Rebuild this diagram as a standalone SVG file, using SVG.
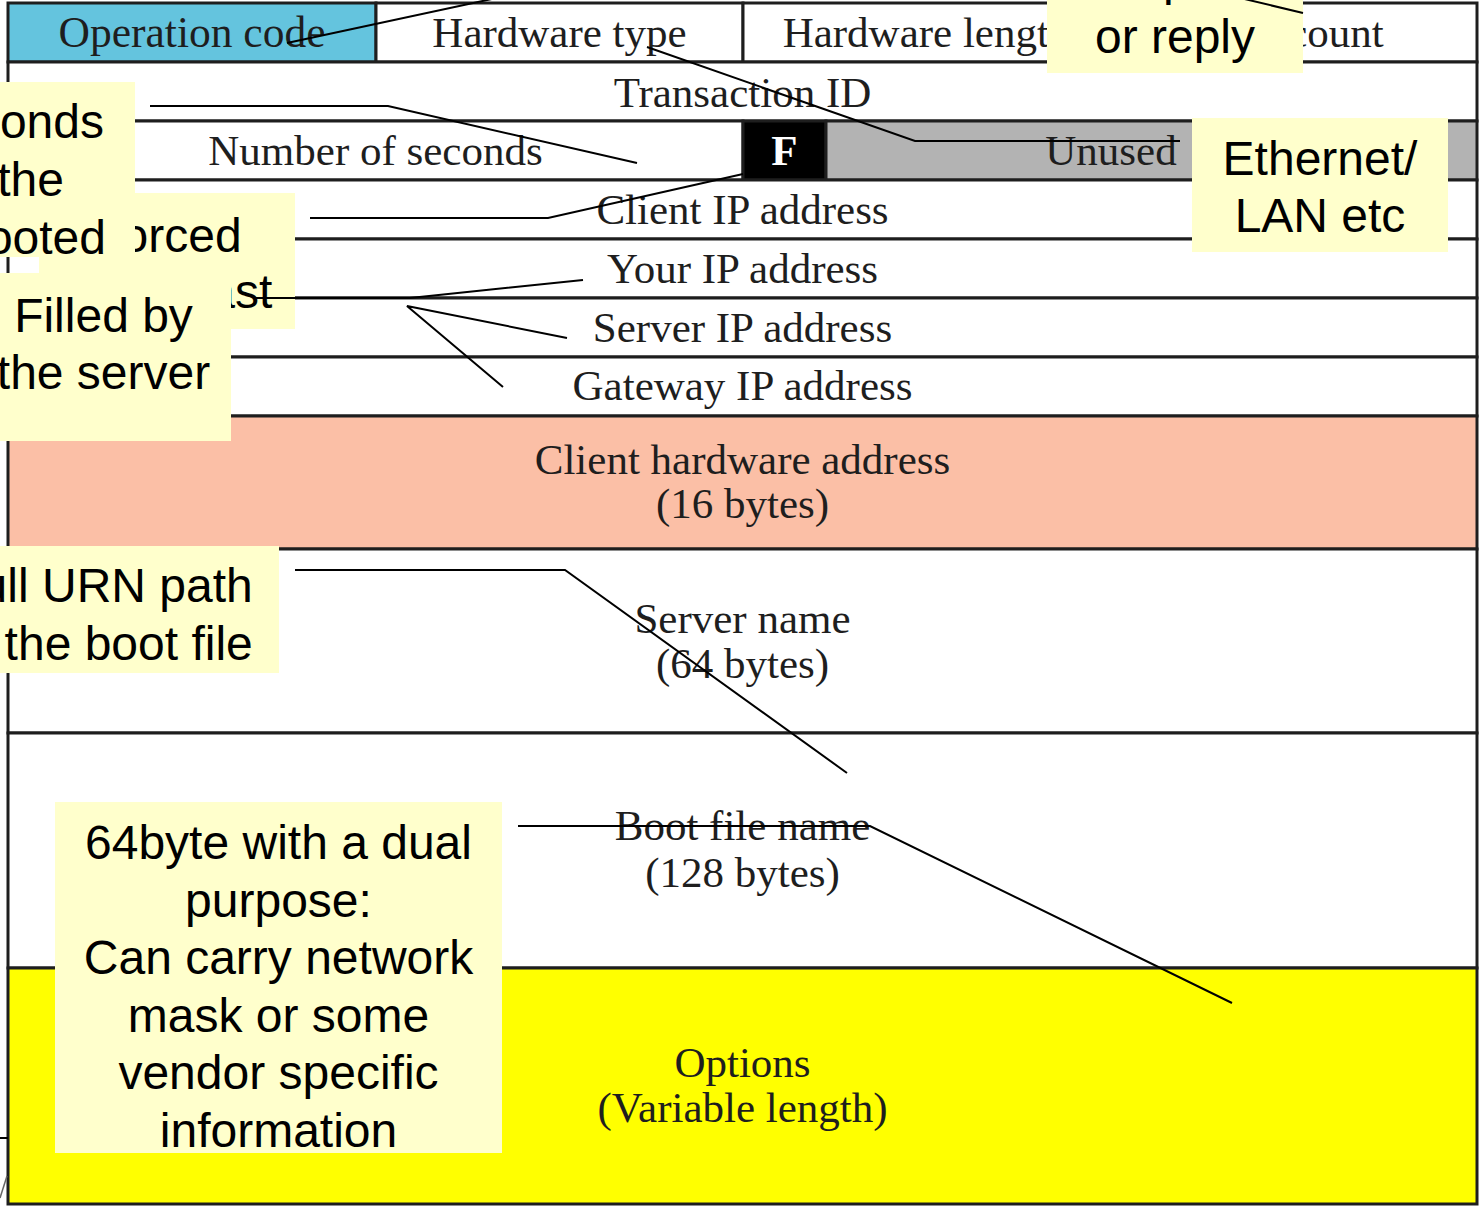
<svg xmlns="http://www.w3.org/2000/svg" width="1479" height="1207" viewBox="0 0 1479 1207">
<style>
.c{stroke:#1e1e1e;stroke-width:3}
.w{fill:#ffffff}
.t{font-family:"Liberation Serif","Times New Roman",serif;font-size:43px;fill:#1e1e1e;text-anchor:middle}
.co{fill:#FFFFCC}
.ct{font-family:"Liberation Sans",Arial,sans-serif;font-size:48px;fill:#000;text-anchor:middle}
.ce{font-family:"Liberation Sans",Arial,sans-serif;font-size:48px;fill:#000;text-anchor:end}
.conn{fill:none;stroke:#000;stroke-width:2}
</style>
<rect x="0" y="0" width="1479" height="1207" fill="#ffffff"/>

<g id="op-code"><rect class="c" x="8" y="3" width="368" height="59" fill="#64C4DE"/><text class="t" x="192" y="47" style="font-size:43.5px">Operation code</text></g>
<g id="hw-type"><rect class="c w" x="376" y="3" width="367" height="59"/><text class="t" x="559.5" y="47">Hardware type</text></g>
<g id="hw-length"><rect class="c w" x="743" y="3" width="367" height="59"/><text class="t" x="926.5" y="47">Hardware length</text></g>
<g id="hop-count"><rect class="c w" x="1110" y="3" width="367" height="59"/><text class="t" x="1293.5" y="47">Hop count</text></g>
<g id="transaction-id"><rect class="c w" x="8" y="62" width="1469" height="59"/><text class="t" x="742.5" y="107">Transaction ID</text></g>
<g id="seconds"><rect class="c w" x="8" y="121" width="735" height="59"/><text class="t" x="375.5" y="165">Number of seconds</text></g>
<g id="flag-f"><rect class="c" x="743" y="121" width="83" height="59" fill="#000"/><text class="t" x="784.5" y="165" style="fill:#fff;font-weight:bold">F</text></g>
<g id="unused"><rect class="c" x="826" y="121" width="651" height="59" fill="#B3B3B3"/><text class="t" x="1111" y="165">Unused</text></g>
<g id="client-ip"><rect class="c w" x="8" y="180" width="1469" height="59"/><text class="t" x="742.5" y="224">Client IP address</text></g>
<g id="your-ip"><rect class="c w" x="8" y="239" width="1469" height="59"/><text class="t" x="742.5" y="283">Your IP address</text></g>
<g id="server-ip"><rect class="c w" x="8" y="298" width="1469" height="59"/><text class="t" x="742.5" y="342">Server IP address</text></g>
<g id="gateway-ip"><rect class="c w" x="8" y="357" width="1469" height="59"/><text class="t" x="742.5" y="400">Gateway IP address</text></g>
<g id="client-hw"><rect class="c" x="8" y="416" width="1469" height="133" fill="#FBBFA6"/><text class="t" x="742.5" y="474">Client hardware address</text><text class="t" x="742.5" y="518">(16 bytes)</text></g>
<g id="server-name"><rect class="c w" x="8" y="549" width="1469" height="184"/><text class="t" x="742.5" y="633">Server name</text><text class="t" x="742.5" y="678">(64 bytes)</text></g>
<g id="boot-file"><rect class="c w" x="8" y="733" width="1469" height="235"/><text class="t" x="742.5" y="840">Boot file name</text><text class="t" x="742.5" y="887">(128 bytes)</text></g>
<g id="options"><rect class="c" x="8" y="968" width="1469" height="236" fill="#FFFF00"/><text class="t" x="742.5" y="1077">Options</text><text class="t" x="742.5" y="1122">(Variable length)</text></g>

<g id="fragments">
<line x1="0" y1="1138" x2="8" y2="1138" stroke="#000" stroke-width="2"/>
<line x1="0" y1="1198" x2="7" y2="1176" stroke="#666" stroke-width="1.5"/>
</g>

<g id="note-request">
<rect class="co" x="1047" y="-20" width="256" height="93"/>
<text class="ct" x="1175" y="-5">Request</text>
<text class="ct" x="1175" y="53">or reply</text>
</g>
<g id="note-ethernet">
<rect class="co" x="1192" y="118" width="256" height="134"/>
<text class="ct" x="1320" y="175">Ethernet/</text>
<text class="ct" x="1320" y="232">LAN etc</text>
</g>
<g id="note-forced">
<rect class="co" x="39" y="193" width="256" height="136"/>
<text class="ct" x="167" y="252">Forced</text>
<text class="ct" x="167" y="308">broadcast</text>
</g>
<g id="note-seconds">
<rect class="co" x="-80" y="82" width="215" height="175"/>
<text class="ce" x="104" y="138">seconds</text>
<text class="ce" x="64" y="196">the</text>
<text class="ce" x="106" y="254">booted</text>
</g>
<g id="note-server">
<rect class="co" x="-24" y="273" width="255" height="168"/>
<text class="ct" x="103.5" y="332">Filled by</text>
<text class="ct" x="103.5" y="389">the server</text>
</g>
<g id="note-urn">
<rect class="co" x="-75" y="546" width="354" height="127"/>
<text class="ct" x="102" y="602">Full URN path</text>
<text class="ct" x="102" y="660">of the boot file</text>
</g>
<g id="note-options">
<rect class="co" x="55" y="802" width="447" height="351"/>
<text class="ct" x="278.5" y="859">64byte with a dual</text>
<text class="ct" x="278.5" y="917">purpose:</text>
<text class="ct" x="278.5" y="974">Can carry network</text>
<text class="ct" x="278.5" y="1032">mask or some</text>
<text class="ct" x="278.5" y="1089">vendor specific</text>
<text class="ct" x="278.5" y="1147">information</text>
</g>

<g id="connectors">
<polyline class="conn" points="287,43 585,-21 1161,-21 1303,13"/>
<polyline class="conn" points="647,47 915,141 1180,141"/>
<polyline class="conn" points="150,106 388,106 637,163"/>
<polyline class="conn" points="310,218 548,218 743,174"/>
<polyline class="conn" points="253,298 410,298 583,280"/>
<polyline class="conn" points="567,338 407,306 503,387"/>
<polyline class="conn" points="295,570 565,570 847,773"/>
<polyline class="conn" points="518,826 870,826 1232,1003"/>
</g>
</svg>
